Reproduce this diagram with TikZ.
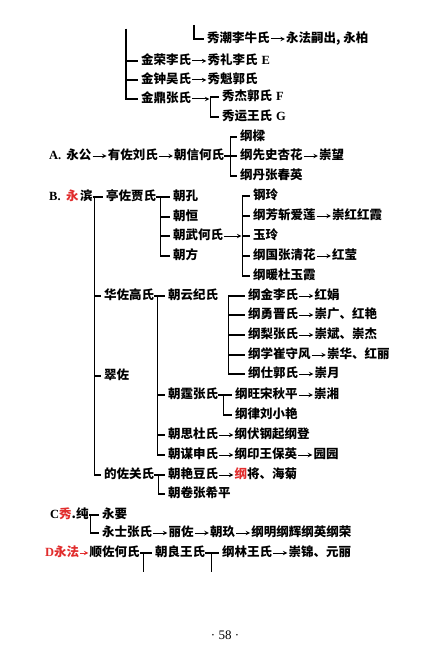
\documentclass[tikz,border=0pt]{standalone}
\usepackage{fontspec}
\setmainfont{Liberation Serif}
\newfontfamily\cjk{Noto Sans CJK SC}
\usepackage{xcolor}
\usetikzlibrary{arrows,positioning}
\definecolor{markred}{RGB}{225,45,45}
\newcommand{\latn}[1]{{\rmfamily\bfseries #1}}

\begin{document}
\begin{tikzpicture}[x=1pt,y=-1pt,node distance=16pt,
  nm/.style={inner sep=0pt,anchor=west,text height=10pt,text depth=2.5pt,font=\cjk\bfseries\fontsize{12.5}{14}\selectfont},
  arr/.style={->,>=stealth,line width=1pt,shorten <=1pt,shorten >=1pt},
  br/.style={line width=1.1pt,shorten >=3pt}]
\useasboundingbox (0,0) rectangle (436,650);
% top, continued from the previous page
\coordinate (topxiu) at (194,25); \coordinate (topjin) at (126,29);
\node[nm] (xiuchao) at (207,39) {秀潮李牛氏}; \node[nm,right=of xiuchao] (yongfa) {永法嗣出, 永柏};
\node[nm] (jinrong) at (141,61) {金荣李氏}; \node[nm,right=of jinrong] (xiuli) {秀礼李氏\hspace{4pt}\latn{E}};
\node[nm] (jinzhong) at (141,80) {金钟吴氏}; \node[nm,right=of jinzhong] (xiukui) {秀魁郭氏};
\node[nm] (jinding) at (141,99) {金鼎张氏}; \coordinate[right=19pt of jinding] (dingj);
\node[nm] (xiujie) at (222,97) {秀杰郭氏\hspace{4pt}\latn{F}};
\node[nm] (xiuyun) at (222,117) {秀运王氏\hspace{4pt}\latn{G}};
\draw[arr] (xiuchao) -- (yongfa); \draw[arr] (jinrong) -- (xiuli); \draw[arr] (jinzhong) -- (xiukui); \draw[arr] (jinding) -- (dingj);
\draw[br] (topxiu) |- (xiuchao);
\foreach \ch in {jinrong,jinzhong,jinding} \draw[br] (topjin) |- (\ch);
\foreach \ch in {xiujie,xiuyun} \draw[br] (dingj) |- (\ch);
% A
\node[nm] (yonggong) at (49,156) {\latn{A.}\hspace{5pt}永公};
\node[nm,right=of yonggong] (youzuo) {有佐刘氏}; \node[nm,right=of youzuo] (chaoxin) {朝信何氏};
\node[nm] (gangliang) at (240,137) {纲樑};
\node[nm] (gangxian) at (240,156) {纲先史杏花}; \node[nm,right=of gangxian] (chongwang) {崇望};
\node[nm] (gangdan) at (240,176) {纲丹张春英};
\draw[arr] (yonggong) -- (youzuo); \draw[arr] (youzuo) -- (chaoxin); \draw[arr] (gangxian) -- (chongwang);
\foreach \ch in {gangliang,gangxian,gangdan} \draw[br] (chaoxin.east) -- ++(6,0) |- (\ch);
% B
\node[nm] (yongbin) at (49,197) {\latn{B.}\hspace{5.5pt}\textcolor{markred}{永}\hspace{1.5pt}滨};
\node[nm] (tingzuo) at (106,197) {亭佐贾氏};
\node[nm] (chaokong) at (173,197) {朝孔}; \node[nm] (chaoheng) at (173,217) {朝恒};
\node[nm] (chaowu) at (173,236) {朝武何氏}; \coordinate[right=19pt of chaowu] (wuj);
\node[nm] (chaofang) at (173,256) {朝方};
\node[nm] (gangling) at (253,196) {钢玲};
\node[nm] (gangfang) at (253,216) {纲芳斩爱莲}; \node[nm,right=of gangfang] (chonghong) {崇红红霞};
\node[nm] (yuling) at (253,236) {玉玲};
\node[nm] (gangguo) at (253,256) {纲国张清花}; \node[nm,right=of gangguo] (hongying) {红莹};
\node[nm] (gangnuan) at (253,276) {纲暖杜玉霞};
\node[nm] (huazuo) at (104,296) {华佐高氏};
\node[nm] (chaoyun) at (168,296) {朝云纪氏};
\node[nm] (gangjin) at (248,296) {纲金李氏}; \node[nm,right=of gangjin] (hongjuan) {红娟};
\node[nm] (gangyong) at (248,315) {纲勇晋氏}; \node[nm,right=of gangyong] (chongguang) {崇广、红艳};
\node[nm] (gangli) at (248,335) {纲梨张氏}; \node[nm,right=of gangli] (chongbin) {崇斌、崇杰};
\node[nm] (gangxue) at (248,355) {纲学崔守风}; \node[nm,right=of gangxue] (chonghua) {崇华、红丽};
\node[nm] (gangshi) at (248,374) {纲仕郭氏}; \node[nm,right=of gangshi] (chongyue) {崇月};
\node[nm] (cuizuo) at (104,376) {翠佐};
\node[nm] (chaoting) at (168,395) {朝霆张氏};
\node[nm] (gangwang) at (235,395) {纲旺宋秋平}; \node[nm,right=of gangwang] (chongxiang) {崇湘};
\node[nm] (ganglv) at (235,415) {纲律刘小艳};
\node[nm] (chaosi) at (168,435) {朝思杜氏}; \node[nm,right=of chaosi] (gangfu) {纲伏钢起纲登};
\node[nm] (chaomou) at (168,455) {朝谋申氏}; \node[nm,right=of chaomou] (gangyin) {纲印王保英};
\node[nm,right=of gangyin] (yuanyuan) {园园};
\node[nm] (dezuo) at (104,475) {的佐关氏};
\node[nm] (chaoyan) at (168,475) {朝艳豆氏}; \node[nm,right=of chaoyan] (gangjiang) {\textcolor{markred}{纲}将、海菊};
\node[nm] (chaojuan) at (168,494) {朝卷张希平};
\foreach \ch in {tingzuo,huazuo,cuizuo,dezuo} \draw[br] (yongbin.east) -- ++(2,0) |- (\ch);
\foreach \ch in {chaokong,chaoheng,chaowu,chaofang} \draw[br] (tingzuo.east) -- ++(4,0) |- (\ch);
\draw[arr] (chaowu) -- (wuj);
\foreach \ch in {gangling,gangfang,yuling,gangguo,gangnuan} \draw[br] (wuj) |- (\ch);
\foreach \ch in {chaoyun,chaoting,chaosi,chaomou} \draw[br] (huazuo.east) -- ++(3,0) |- (\ch);
\foreach \ch in {gangjin,gangyong,gangli,gangxue,gangshi} \draw[br] ([xshift=10pt]chaoyun.east) |- (\ch);
\foreach \ch in {gangwang,ganglv} \draw[br] (chaoting.east) -- ++(5,0) |- (\ch);
\foreach \ch in {chaoyan,chaojuan} \draw[br] (dezuo.east) -- ++(4,0) |- (\ch);
\draw[arr] (gangfang) -- (chonghong); \draw[arr] (gangguo) -- (hongying);
\draw[arr] (gangjin) -- (hongjuan); \draw[arr] (gangyong) -- (chongguang); \draw[arr] (gangli) -- (chongbin);
\draw[arr] (gangxue) -- (chonghua); \draw[arr] (gangshi) -- (chongyue); \draw[arr] (gangwang) -- (chongxiang);
\draw[arr] (chaosi) -- (gangfu); \draw[arr] (chaomou) -- (gangyin); \draw[arr] (gangyin) -- (yuanyuan);
\draw[arr] (chaoyan) -- (gangjiang);
% C
\node[nm] (xiuchun) at (50,515) {\latn{C}\textcolor{markred}{秀}.纯};
\node[nm] (yongyao) at (102,515) {永要};
\node[nm] (yongshi) at (102,533) {永士张氏}; \node[nm,right=of yongshi] (lizuo) {丽佐};
\node[nm,right=of lizuo] (chaojiu) {朝玖}; \node[nm,right=of chaojiu] (gangming) {纲明纲辉纲英纲荣};
\foreach \ch in {yongyao,yongshi} \draw[br] (xiuchun.east) -- ++(2,0) |- (\ch);
\draw[arr] (yongshi) -- (lizuo); \draw[arr] (lizuo) -- (chaojiu); \draw[arr] (chaojiu) -- (gangming);
% D
\node[nm,text=markred] (dyongfa) at (45,553) {\latn{D}永法};
\node[nm,right=10pt of dyongfa] (shunzuo) {顺佐何氏};
\node[nm] (chaoliang) at (155,553) {朝良王氏};
\node[nm] (ganglin) at (222,553) {纲林王氏}; \node[nm,right=of ganglin] (chongjin) {崇锦、元丽};
\draw[arr,markred] (dyongfa) -- (shunzuo); \draw[arr] (ganglin) -- (chongjin);
\draw[br] (shunzuo.east) -- ++(4,0) coordinate (dj1) |- (chaoliang); \draw[br,shorten >=0pt] (dj1) -- ++(0,19);
\draw[br] (chaoliang.east) -- ++(6,0) coordinate (dj2) |- (ganglin); \draw[br,shorten >=0pt] (dj2) -- ++(0,19);
\node[font=\rmfamily\fontsize{13}{15}\selectfont] (pagenum) at (225,635) {· 58 ·};
\end{tikzpicture}
\end{document}
